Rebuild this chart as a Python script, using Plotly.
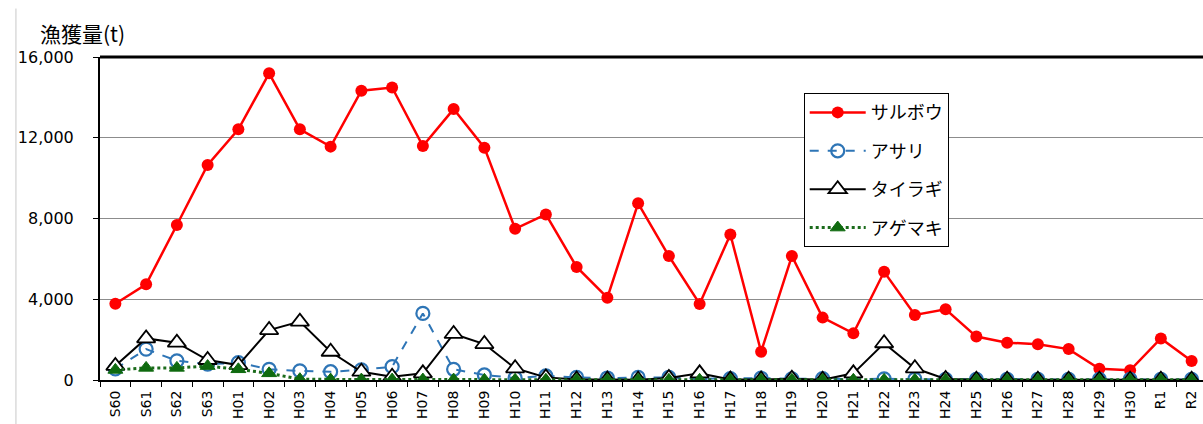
import plotly.graph_objects as go

categories = ["S60", "S61", "S62", "S63",
              "H01", "H02", "H03", "H04", "H05", "H06", "H07", "H08", "H09", "H10",
              "H11", "H12", "H13", "H14", "H15", "H16", "H17", "H18", "H19", "H20",
              "H21", "H22", "H23", "H24", "H25", "H26", "H27", "H28", "H29", "H30",
              "R1", "R2"]

sarubou = [3780, 4740, 7680, 10650, 12420, 15190, 12420, 11560, 14330, 14490,
           11590, 13420, 11510, 7490, 8200, 5600, 4080, 8750, 6140, 3770,
           7210, 1400, 6140, 3090, 2310, 5360, 3220, 3500, 2150, 1850,
           1770, 1530, 560, 480, 2060, 940]

asari = [550, 1530, 950, 780, 860, 530, 450, 410, 500, 660,
         3300, 530, 250, 100, 200, 130, 100, 130, 130, 60,
         70, 90, 60, 70, 40, 60, 40, 30, 30, 30,
         30, 30, 30, 30, 30, 30]

tairagi = [700, 2060, 1850, 990, 740, 2475, 2890, 1400, 410, 160,
           330, 2280, 1780, 580, 130, 30, 20, 10, 100, 330,
           20, 20, 60, 10, 330, 1820, 580, 50, 10, 10,
           10, 10, 10, 10, 10, 10]

agemaki = [500, 600, 600, 690, 530, 330, 40, 20, 20, 20,
           20, 20, 10, 10, 10, 10, 10, 10, 10, 10,
           10, 10, 10, 10, 10, 10, 10, 10, 10, 10,
           10, 10, 10, 10, 10, 10]

y_ticks = [0, 4000, 8000, 12000, 16000]

jp_font = "Noto Sans CJK JP"
num_font = "DejaVu Sans, Verdana, sans-serif"

fig = go.Figure()

fig.add_trace(go.Scatter(
    x=categories, y=sarubou, name="サルボウ", mode="lines+markers",
    line=dict(color="#FF0000", width=2.5),
    marker=dict(symbol="circle", size=12, color="#FF0000"),
    legendgroup="a"))

fig.add_trace(go.Scatter(
    x=categories, y=asari, name="アサリ", mode="lines+markers",
    line=dict(color="#2E75B6", width=2, dash="dash"),
    marker=dict(symbol="circle-open", size=13, color="#2E75B6",
                line=dict(width=2.2, color="#2E75B6")),
    legendgroup="b"))

fig.add_trace(go.Scatter(
    x=categories, y=tairagi, name="タイラギ", mode="lines+markers",
    line=dict(color="#000000", width=2),
    marker=dict(symbol="triangle-up", size=16, color="white",
                line=dict(width=1.8, color="#000000")),
    legendgroup="c"))

fig.add_trace(go.Scatter(
    x=categories, y=agemaki, name="アゲマキ", mode="lines+markers",
    line=dict(color="#1B6B1B", width=3, dash="dot"),
    marker=dict(symbol="triangle-up", size=13, color="#0F6A0F",
                line=dict(width=1, color="#0F6A0F")),
    legendgroup="d"))

fig.update_layout(
    width=1203, height=424,
    margin=dict(l=100, r=0, t=57, b=44),
    paper_bgcolor="white", plot_bgcolor="white",
    showlegend=True,
    legend=dict(
        x=0.638, y=0.888, xanchor="left", yanchor="top",
        bgcolor="white", bordercolor="black", borderwidth=1,
        font=dict(family=jp_font, size=18, color="black"),
        tracegroupgap=12, itemwidth=56,
    ),
    annotations=[dict(
        text="漁獲量(t)", xref="paper", yref="paper",
        x=-0.056, y=1.074, xanchor="left", yanchor="middle",
        showarrow=False, font=dict(family=jp_font, size=21, color="black"))],
    shapes=[
        dict(type="line", xref="paper", yref="paper", x0=0, x1=1.01, y0=1, y1=1,
             line=dict(color="black", width=3)),
        dict(type="line", xref="paper", yref="paper", x0=-0.0762, x1=-0.0762,
             y0=-0.2, y1=1.15, line=dict(color="#C8C8C8", width=1)),
    ],
)

fig.update_xaxes(
    type="category", range=[-0.5, 35.37],
    tickangle=-90, tickson="boundaries", ticks="outside", ticklen=5,
    tickcolor="black", showline=True, linecolor="black", linewidth=2,
    showgrid=False, automargin=False, ticklabelstandoff=3,
    tickfont=dict(family=num_font, size=14, color="black"),
)

fig.update_yaxes(
    range=[0, 16000], tickvals=y_ticks, tickformat=",",
    ticks="outside", ticklen=5, tickcolor="black",
    showline=True, linecolor="black", linewidth=2,
    showgrid=True, gridcolor="#8C8C8C", gridwidth=1,
    zeroline=False, automargin=False, ticklabelstandoff=16,
    tickfont=dict(family=num_font, size=16, color="black"),
)

fig.write_html("out.html")
